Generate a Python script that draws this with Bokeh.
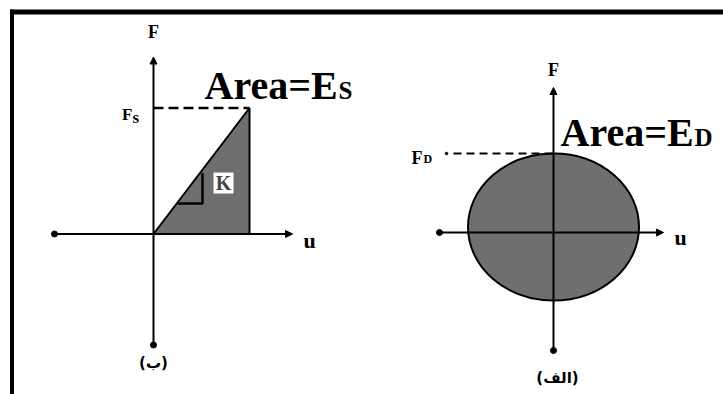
from bokeh.plotting import figure
from bokeh.models import Range1d, Arrow, NormalHead, Label
from bokeh.embed import file_html
from bokeh.resources import INLINE

# ---------------- data (diagram units) ----------------
# Static panel (ب): linear F-u relation with stiffness K
static_u = [0, 96, 96]            # triangle vertices (u)
static_F = [0, 126, 0]            # triangle vertices (F)
static_Fs = 126                   # F_s level
static_us = 96                    # displacement at F_s
static_axis_u = [-99, 139]        # u-axis extent
static_axis_F = [-111, 177]       # F-axis extent
slope_u = [24, 49, 49]            # slope marker (K)
slope_F = [30.5, 30.5, 61]

# Dynamic panel (الف): elliptical hysteresis loop
dyn_center = [0, 5.5]             # loop centre (u, F)
dyn_size = [171, 147]             # loop width (u), height (F)
dyn_FD = 79                       # F_D level
dyn_dash_u = [-100, 0]
dyn_dot_u = -107
dyn_axis_u = [-114, 110]
dyn_axis_F = [-118, 145]

panel_labels = ["(ب)", "(الف)"]
titles = ["Area=E", "Area=E"]
subs = ["S", "D"]

# ---------------- layout ----------------
O1 = (153, 233.5)   # page origin of static panel
O2 = (553, 232)     # page origin of dynamic panel
GRAY = "#6f6f6f"
SERIF = "Liberation Serif"

def X(o, u):
    return [o[0] + v for v in u] if isinstance(u, list) else o[0] + u

def Y(o, f):
    return [o[1] - v for v in f] if isinstance(f, list) else o[1] - f

p = figure(width=723, height=394, x_range=Range1d(0, 723), y_range=Range1d(394, 0),
           x_axis_type=None, y_axis_type=None, toolbar_location=None,
           output_backend="svg", min_border=0, outline_line_color=None,
           background_fill_color="white", border_fill_color="white")
p.grid.visible = False

# frame border
p.line([11.5, 11.5], [9, 394], line_color="black", line_width=4)
p.line([9.5, 723], [11.5, 11.5], line_color="black", line_width=5)

# ---------- static panel ----------
p.patch(X(O1, static_u), Y(O1, static_F), fill_color=GRAY, line_color="black", line_width=2)
p.line(X(O1, [0, static_us]), Y(O1, [static_Fs, static_Fs]), line_color="black",
       line_width=2.5, line_dash="10 5")
p.line(X(O1, slope_u), Y(O1, slope_F), line_color="black", line_width=2.5)
p.rect(x=[X(O1, 70)], y=[Y(O1, 51)], width=20, height=21, fill_color="white", line_color=None)
p.add_layout(Label(x=X(O1, 70), y=Y(O1, 51), text="K", text_font=SERIF, text_font_style="bold",
                   text_font_size="20px", text_align="center", text_baseline="middle"))

def axes(o, au, af):
    p.add_layout(Arrow(end=NormalHead(size=7, fill_color="black", line_color="black"),
                       x_start=X(o, au[0]), y_start=Y(o, 0), x_end=X(o, au[1]), y_end=Y(o, 0),
                       line_width=2, line_color="black"))
    p.add_layout(Arrow(end=NormalHead(size=7, fill_color="black", line_color="black"),
                       x_start=X(o, 0), y_start=Y(o, af[0]), x_end=X(o, 0), y_end=Y(o, af[1]),
                       line_width=2, line_color="black"))
    p.scatter([X(o, au[0]), X(o, 0)], [Y(o, 0), Y(o, af[0])], size=6, color="black")

axes(O1, static_axis_u, static_axis_F)

# ---------- dynamic panel ----------
p.ellipse(x=[X(O2, dyn_center[0])], y=[Y(O2, dyn_center[1])], width=dyn_size[0],
          height=dyn_size[1], fill_color=GRAY, line_color="black", line_width=2)
p.line(X(O2, dyn_dash_u), Y(O2, [dyn_FD, dyn_FD]), line_color="black", line_width=2,
       line_dash="8 5")
p.scatter([X(O2, dyn_dot_u)], [Y(O2, dyn_FD)], size=2.5, color="black")
axes(O2, dyn_axis_u, dyn_axis_F)

# ---------- texts ----------
def lab(x, y, t, size, align="left", base="alphabetic", font=SERIF, style="bold"):
    p.add_layout(Label(x=x, y=y, text=t, text_font=font, text_font_style=style,
                       text_font_size=size, text_align=align, text_baseline=base,
                       text_color="black"))

# axis names
lab(X(O1, 0), 31, "F", "18px", "center", "middle")
lab(X(O2, 0), 69, "F", "18px", "center", "middle")
lab(303, 240, "u", "22px")
lab(674, 237, "u", "22px")
# F_s
lab(132, 114, "F", "17px", "right")
lab(132, 117, "s", "17px")
# F_D
lab(422, 157, "F", "18px", "right")
lab(423, 158, "D", "12px")
# titles
lab(204, 85, titles[0], "40px")
lab(338, 90, subs[0], "25px")
lab(560, 132, titles[1], "40px")
lab(694, 137, subs[1], "25px")
# panel labels
lab(X(O1, 0), 362, panel_labels[0], "15px", "center", "middle", font="DejaVu Sans")
lab(557, 377, panel_labels[1], "15px", "center", "middle", font="DejaVu Sans")

open("out.html", "w").write(file_html(p, INLINE))
